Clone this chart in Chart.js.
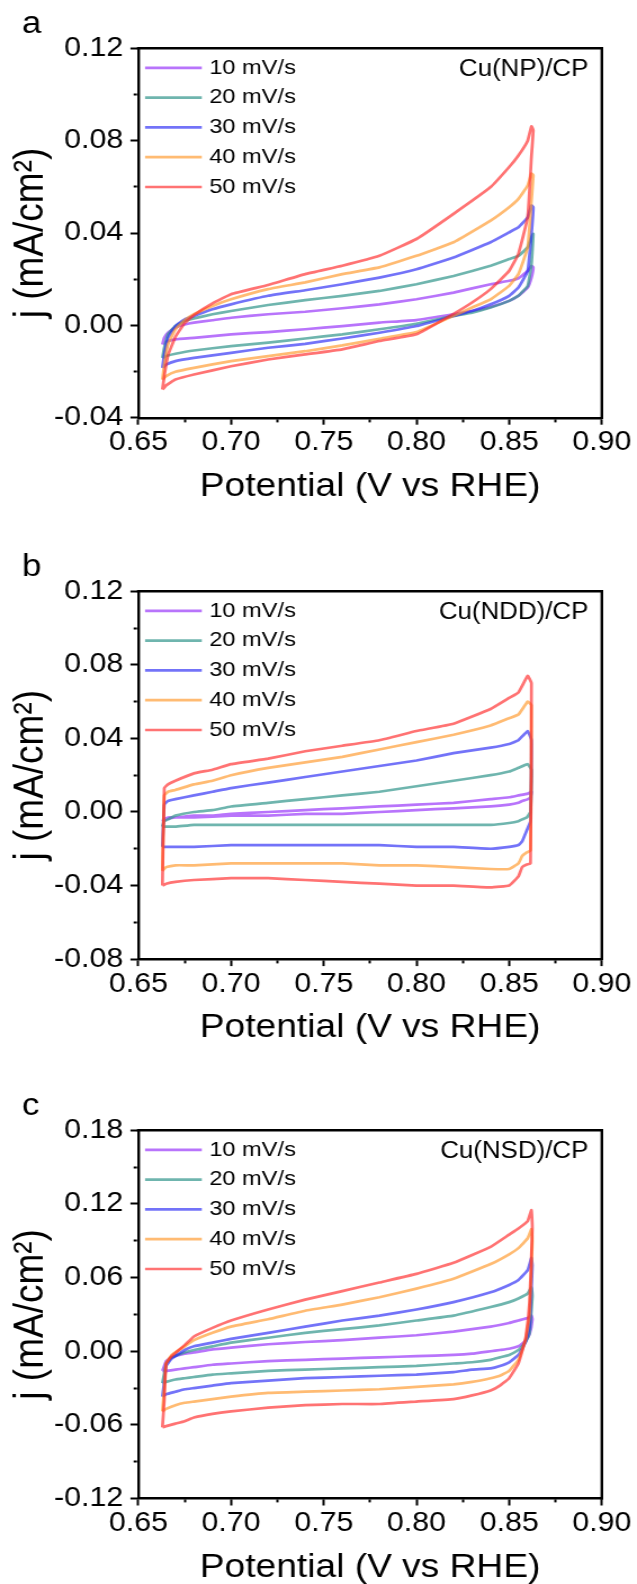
<!DOCTYPE html>
<html>
<head>
<meta charset="utf-8">
<script src="https://cdn.jsdelivr.net/npm/chart.js@4.4.1/dist/chart.umd.min.js"></script>
<style>
  html, body { margin: 0; padding: 0; background: #fff; overflow: hidden; }
  body { width: 637px; height: 1584px; position: relative; }
  /* the figure is slightly stretched horizontally, so draw narrow and widen */
  canvas { position: absolute; left: 0; transform: scaleX(1.1254); transform-origin: 0 0; }
</style>
</head>
<body>
<canvas id="chartA" width="566" height="543" style="top:0px"></canvas>
<canvas id="chartB" width="566" height="539" style="top:543.4px"></canvas>
<canvas id="chartC" width="566" height="506" style="top:1082.4px"></canvas>
<script>
const rateLabels = ['10 mV/s', '20 mV/s', '30 mV/s', '40 mV/s', '50 mV/s'];
const lineColors = [
    'rgba(160, 70, 250, 0.75)',
    'rgba(50, 150, 140, 0.7)',
    'rgba(40, 40, 245, 0.65)',
    'rgba(255, 150, 40, 0.65)',
    'rgba(255, 40, 40, 0.65)'
];

// a) Cu(NP)/CP - potential (V vs RHE), anodic sweep then cathodic sweep
const potentialA = [0.663, 0.664, 0.666, 0.67, 0.675, 0.68, 0.69, 0.70, 0.72, 0.74, 0.76, 0.78, 0.80, 0.82, 0.84, 0.85, 0.855, 0.86, 0.862,
    0.863, 0.862, 0.86, 0.855, 0.85, 0.84, 0.83, 0.82, 0.80, 0.78, 0.76, 0.74, 0.72, 0.70, 0.68, 0.67, 0.665];
const currentA10 = [-0.0083, -0.0054, -0.0032, -0.001, 0.0004, 0.0012, 0.0022, 0.0033, 0.0048, 0.0059, 0.0074, 0.0091, 0.0113, 0.0142, 0.0178, 0.0193, 0.0204, 0.0236, 0.0258,
    0.0251, 0.0207, 0.0164, 0.0128, 0.0106, 0.008, 0.0062, 0.0048, 0.0023, 0.0012, -0.0003, -0.0017, -0.0029, -0.0039, -0.0054, -0.0061, -0.0071];
const currentA20 = [-0.0141, -0.0097, -0.0039, -0.0003, 0.0019, 0.003, 0.0048, 0.0062, 0.0088, 0.0109, 0.0128, 0.0149, 0.0178, 0.0214, 0.0258, 0.0287, 0.0301, 0.0338, 0.0381,
    0.0396, 0.0265, 0.0171, 0.0128, 0.0106, 0.0077, 0.0055, 0.0041, 0.0007, -0.0017, -0.0039, -0.0057, -0.0075, -0.009, -0.0109, -0.0123, -0.0133];
const currentA30 = [-0.0184, -0.0126, -0.0054, -0.0003, 0.0026, 0.0041, 0.007, 0.0091, 0.0128, 0.0152, 0.0178, 0.0207, 0.0243, 0.0294, 0.036, 0.0403, 0.0425, 0.0468, 0.0519,
    0.0512, 0.0396, 0.0236, 0.0164, 0.0128, 0.0091, 0.0062, 0.0041, -0.0003, -0.0032, -0.0057, -0.008, -0.0097, -0.0119, -0.0141, -0.0155, -0.017];
const currentA40 = [-0.0235, -0.017, -0.0083, -0.0017, 0.0022, 0.0048, 0.0084, 0.0113, 0.0157, 0.0186, 0.0222, 0.0251, 0.0301, 0.036, 0.0454, 0.0512, 0.0548, 0.0606, 0.0657,
    0.065, 0.054, 0.0338, 0.0222, 0.0171, 0.0113, 0.0077, 0.0041, -0.0029, -0.0058, -0.0087, -0.0112, -0.0133, -0.0155, -0.0184, -0.0201, -0.022];
const currentA50 = [-0.0278, -0.022, -0.013, -0.005, 0.001, 0.0045, 0.0095, 0.0135, 0.0175, 0.0222, 0.0258, 0.0301, 0.0374, 0.0483, 0.0599, 0.0686, 0.0736, 0.080, 0.0862,
    0.0845, 0.073, 0.047, 0.031, 0.0236, 0.0157, 0.0099, 0.005, -0.0039, -0.0068, -0.0104, -0.0126, -0.0148, -0.0177, -0.0213, -0.0235, -0.026];

// b) Cu(NDD)/CP
const potentialB = [0.663, 0.664, 0.666, 0.67, 0.68, 0.69, 0.70, 0.72, 0.74, 0.76, 0.78, 0.80, 0.82, 0.84, 0.85, 0.855, 0.86, 0.862,
    0.8615, 0.8595, 0.857, 0.855, 0.85, 0.84, 0.82, 0.80, 0.78, 0.76, 0.74, 0.72, 0.70, 0.68, 0.67, 0.665];
const currentB10 = [-0.005, -0.004, -0.003, -0.003, -0.002, -0.002, -0.001, 0.000, 0.001, 0.002, 0.003, 0.004, 0.005, 0.007, 0.008, 0.009, 0.010, 0.011,
    0.008, 0.0067, 0.006, 0.005, 0.004, 0.003, 0.002, 0.001, 0.000, -0.001, -0.001, -0.002, -0.002, -0.003, -0.003, -0.004];
const currentB20 = [-0.008, -0.005, -0.004, -0.002, 0.000, 0.001, 0.003, 0.005, 0.007, 0.009, 0.011, 0.014, 0.017, 0.020, 0.022, 0.024, 0.026, 0.023,
    0.000, -0.003, -0.004, -0.005, -0.006, -0.007, -0.007, -0.007, -0.007, -0.007, -0.007, -0.007, -0.007, -0.007, -0.008, -0.008];
const currentB30 = [-0.019, 0.004, 0.006, 0.007, 0.009, 0.011, 0.013, 0.016, 0.019, 0.022, 0.025, 0.028, 0.032, 0.035, 0.037, 0.039, 0.044, 0.039,
    -0.005, -0.010, -0.016, -0.018, -0.019, -0.020, -0.019, -0.019, -0.018, -0.018, -0.018, -0.018, -0.018, -0.019, -0.019, -0.019];
const currentB40 = [-0.032, 0.009, 0.011, 0.012, 0.015, 0.017, 0.020, 0.024, 0.027, 0.030, 0.034, 0.038, 0.042, 0.047, 0.051, 0.053, 0.060, 0.058,
    -0.021, -0.022, -0.024, -0.028, -0.031, -0.031, -0.030, -0.029, -0.029, -0.028, -0.028, -0.028, -0.028, -0.029, -0.029, -0.030];
const currentB50 = [-0.040, 0.013, 0.015, 0.017, 0.021, 0.023, 0.026, 0.029, 0.033, 0.036, 0.039, 0.044, 0.048, 0.056, 0.062, 0.065, 0.074, 0.070,
    -0.028, -0.0286, -0.030, -0.035, -0.040, -0.041, -0.040, -0.040, -0.039, -0.038, -0.037, -0.036, -0.036, -0.037, -0.038, -0.039];

// c) Cu(NSD)/CP
const potentialC = [0.663, 0.664, 0.665, 0.668, 0.675, 0.68, 0.69, 0.70, 0.72, 0.74, 0.76, 0.78, 0.80, 0.82, 0.84, 0.85, 0.855, 0.86, 0.862,
    0.8625, 0.861, 0.859, 0.857, 0.855, 0.85, 0.845, 0.84, 0.83, 0.82, 0.80, 0.78, 0.76, 0.74, 0.72, 0.70, 0.69, 0.68, 0.675, 0.67, 0.665];
const currentC10 = [-0.016, -0.012, -0.008, -0.005, -0.002, -0.001, 0.0015, 0.003, 0.0057, 0.0075, 0.009, 0.011, 0.013, 0.016, 0.020, 0.023, 0.025, 0.027, 0.029,
    0.026, 0.014, 0.009, 0.006, 0.004, 0.002, 0.001, 0.000, -0.002, -0.003, -0.004, -0.005, -0.006, -0.007, -0.008, -0.010, -0.011, -0.013, -0.014, -0.015, -0.016];
const currentC20 = [-0.026, -0.018, -0.010, -0.005, -0.001, 0.001, 0.004, 0.007, 0.011, 0.015, 0.018, 0.021, 0.025, 0.029, 0.036, 0.040, 0.043, 0.047, 0.052,
    0.045, 0.015, 0.008, 0.004, 0.001, -0.003, -0.005, -0.007, -0.009, -0.010, -0.012, -0.013, -0.014, -0.015, -0.016, -0.018, -0.019, -0.021, -0.022, -0.023, -0.025];
const currentC30 = [-0.037, -0.025, -0.012, -0.006, 0.001, 0.004, 0.007, 0.010, 0.015, 0.020, 0.025, 0.029, 0.034, 0.040, 0.048, 0.054, 0.058, 0.066, 0.076,
    0.070, 0.020, 0.008, 0.002, -0.003, -0.009, -0.012, -0.014, -0.015, -0.017, -0.019, -0.020, -0.021, -0.022, -0.024, -0.026, -0.028, -0.030, -0.031, -0.033, -0.035];
const currentC40 = [-0.049, -0.030, -0.010, -0.003, 0.004, 0.009, 0.015, 0.020, 0.026, 0.033, 0.038, 0.044, 0.051, 0.059, 0.071, 0.079, 0.084, 0.092, 0.0995,
    0.090, 0.030, 0.010, 0.001, -0.007, -0.016, -0.020, -0.022, -0.025, -0.027, -0.029, -0.031, -0.032, -0.033, -0.034, -0.037, -0.039, -0.041, -0.042, -0.044, -0.047];
const currentC50 = [-0.062, -0.040, -0.010, -0.004, 0.005, 0.012, 0.019, 0.025, 0.034, 0.042, 0.049, 0.056, 0.063, 0.072, 0.085, 0.095, 0.100, 0.106, 0.115,
    0.100, 0.040, 0.012, 0.000, -0.010, -0.022, -0.028, -0.032, -0.036, -0.039, -0.041, -0.043, -0.043, -0.044, -0.046, -0.049, -0.051, -0.054, -0.057, -0.059, -0.061];

Chart.defaults.font.family = "'Liberation Sans', Arial, sans-serif";
Chart.defaults.color = '#000';

const PLOT_TOP = 48.3;
const X_AXIS_H = 89;
const Y_AXIS_W = 122.9;
const PAD_RIGHT = 31.2;

// every other tick is a labelled major tick
const isMajor = (v, step) => Math.abs(Math.round(v / step)) % 2 === 0;

// frame, panel letter, sample name and the in-plot legend
const panelDecor = {
    id: 'panelDecor',
    afterDraw(chart, args, opts) {
        const { ctx, chartArea: { left, right, top, bottom } } = chart;
        ctx.save();
        ctx.strokeStyle = '#000';
        ctx.lineWidth = 2.4;
        ctx.beginPath();
        ctx.moveTo(left - 1.2, top);
        ctx.lineTo(right, top);
        ctx.lineTo(right, bottom + 1.2);
        ctx.stroke();

        ctx.fillStyle = '#000';
        ctx.font = "31px 'Liberation Sans'";
        ctx.textAlign = 'left';
        ctx.textBaseline = 'alphabetic';
        ctx.fillText(opts.letter, 19.6, top - 15.3);

        ctx.font = "23px 'Liberation Sans'";
        ctx.textAlign = 'right';
        ctx.textBaseline = 'middle';
        ctx.fillText(opts.sample, right - 12, top + 21);

        ctx.font = "21px 'Liberation Sans'";
        ctx.textAlign = 'left';
        chart.data.datasets.forEach((ds, i) => {
            const y = top + 19.5 + i * 29.8;
            ctx.strokeStyle = ds.borderColor;
            ctx.lineWidth = 2.7;
            ctx.beginPath();
            ctx.moveTo(left + 6, y);
            ctx.lineTo(left + 56.4, y);
            ctx.stroke();
            ctx.fillText(ds.label, left + 63, y);
        });
        ctx.restore();
    }
};

function makeChart(id, opt) {
    const canvas = document.getElementById(id);
    const datasets = opt.currents.map((cur, i) => {
        const pts = opt.potential.map((v, k) => ({ x: v, y: cur[k] }));
        pts.push(pts[0]); // close the loop
        return {
            label: rateLabels[i],
            data: pts,
            showLine: true,
            borderColor: lineColors[i],
            borderWidth: 2.7,
            pointRadius: 0,
            tension: 0.1,
            order: 4 - i
        };
    });

    return new Chart(canvas, {
        type: 'scatter',
        data: { datasets },
        options: {
            responsive: false,
            animation: false,
            devicePixelRatio: 1,
            layout: {
                padding: { top: PLOT_TOP, right: PAD_RIGHT, left: 0, bottom: canvas.height - PLOT_TOP - opt.plotHeight - X_AXIS_H }
            },
            plugins: {
                legend: { display: false },
                tooltip: { enabled: false },
                panelDecor: { letter: opt.letter, sample: opt.sample }
            },
            scales: {
                x: {
                    type: 'linear',
                    position: 'bottom',
                    min: 0.65,
                    max: 0.90,
                    afterFit: s => { s.height = X_AXIS_H; },
                    ticks: {
                        stepSize: 0.025,
                        padding: 2,
                        autoSkip: false,
                        maxRotation: 0,
                        font: { size: 27 },
                        callback: v => isMajor(v, 0.025) ? v.toFixed(2) : ''
                    },
                    grid: {
                        drawOnChartArea: false,
                        tickLength: 7,
                        tickWidth: 2,
                        tickColor: '#000',
                        tickBorderDash: c => (c.tick && !isMajor(c.tick.value, 0.025)) ? [3, 20] : []
                    },
                    border: { color: '#000', width: 2.4 },
                    title: { display: true, text: 'Potential (V vs RHE)', font: { size: 33 }, padding: 0 }
                },
                y: {
                    type: 'linear',
                    min: opt.yMin,
                    max: opt.yMax,
                    afterFit: s => { s.width = Y_AXIS_W; },
                    ticks: {
                        stepSize: opt.yStep,
                        padding: 6.3,
                        autoSkip: false,
                        font: { size: 27 },
                        callback: v => isMajor(v, opt.yStep) ? v.toFixed(2) : ''
                    },
                    grid: {
                        drawOnChartArea: false,
                        tickLength: 7,
                        tickWidth: 2,
                        tickColor: '#000',
                        tickBorderDash: c => (c.tick && !isMajor(c.tick.value, opt.yStep)) ? [0, 2.8, 3, 20] : []
                    },
                    border: { color: '#000', width: 2.4 },
                    title: { display: true, text: 'j (mA/cm²)', font: { size: 37 }, padding: { top: 6, bottom: 0 } }
                }
            }
        },
        plugins: [panelDecor]
    });
}

makeChart('chartA', {
    letter: 'a', sample: 'Cu(NP)/CP', plotHeight: 369.4,
    yMin: -0.04, yMax: 0.12, yStep: 0.02,
    potential: potentialA,
    currents: [currentA10, currentA20, currentA30, currentA40, currentA50]
});

makeChart('chartB', {
    letter: 'b', sample: 'Cu(NDD)/CP', plotHeight: 367.8,
    yMin: -0.08, yMax: 0.12, yStep: 0.02,
    potential: potentialB,
    currents: [currentB10, currentB20, currentB30, currentB40, currentB50]
});

makeChart('chartC', {
    letter: 'c', sample: 'Cu(NSD)/CP', plotHeight: 368.2,
    yMin: -0.12, yMax: 0.18, yStep: 0.03,
    potential: potentialC,
    currents: [currentC10, currentC20, currentC30, currentC40, currentC50]
});
</script>
</body>
</html>
